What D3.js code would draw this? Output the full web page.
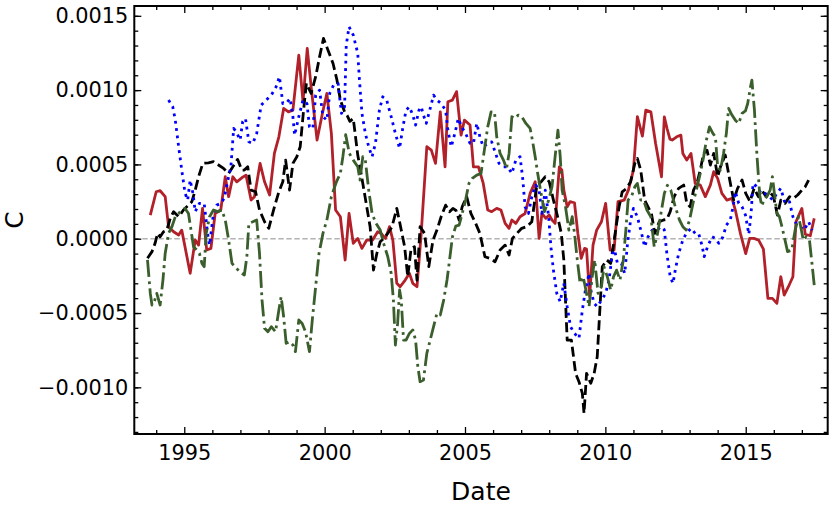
<!DOCTYPE html>
<html>
<head>
<meta charset="utf-8">
<script src="https://cdn.jsdelivr.net/npm/d3@7"></script>
<style>
  body { margin: 0; background: #fff; }
  svg { display: block; font-family: "DejaVu Sans", sans-serif; }
</style>
</head>
<body>
<script>
// values are [decimal year, C in units of 1e-4]
const redSeries = [
  [1993.79,1.59],[1994.0,3.16],[1994.14,3.23],[1994.32,2.83],[1994.44,0.81],[1994.62,0.47],[1994.8,0.25],[1994.91,0.58],
  [1995.21,-2.33],[1995.39,-0.09],[1995.51,-0.43],[1995.65,2.04],[1995.8,-0.76],[1995.95,-0.65],[1996.1,1.7],[1996.3,1.93],
  [1996.46,4.17],[1996.58,2.83],[1996.73,4.17],[1996.87,3.83],[1997.05,4.1],[1997.2,4.28],[1997.38,2.6],[1997.5,2.83],
  [1997.7,5.07],[1997.86,3.83],[1998.04,2.94],[1998.21,5.74],[1998.37,6.86],[1998.54,8.77],[1998.71,8.54],[1998.87,8.65],
  [1999.08,12.35],[1999.23,9.22],[1999.38,12.8],[1999.52,10.22],[1999.73,6.64],[1999.92,8.43],[2000.08,9.78],[2000.24,7.09],
  [2000.39,1.93],[2000.56,1.48],[2000.73,-1.43],[2000.87,1.7],[2001.02,-0.31],[2001.18,0.02],[2001.33,-0.65],[2001.5,-0.09],
  [2001.71,-0.09],[2001.89,0.47],[2002.01,0.36],[2002.17,0.02],[2002.31,0.81],[2002.43,-0.09],[2002.57,-3.0],[2002.69,-3.23],
  [2002.87,-2.78],[2003.02,-2.33],[2003.14,-3.0],[2003.29,-3.23],[2003.44,0.36],[2003.64,6.19],[2003.8,5.96],[2003.95,5.07],
  [2004.12,8.54],[2004.29,4.84],[2004.39,9.22],[2004.55,9.33],[2004.7,9.9],[2004.86,6.97],[2004.98,7.98],[2005.18,7.65],
  [2005.3,4.84],[2005.48,4.84],[2005.65,3.72],[2005.81,1.93],[2005.95,1.82],[2006.13,2.04],[2006.28,1.93],[2006.43,1.03],
  [2006.57,0.7],[2006.67,1.26],[2006.81,1.03],[2006.96,1.48],[2007.14,1.7],[2007.32,3.05],[2007.5,3.83],[2007.64,0.02],
  [2007.74,1.7],[2007.88,1.37],[2008.0,1.59],[2008.1,1.26],[2008.21,1.03],[2008.36,4.84],[2008.45,4.62],[2008.52,3.27],
  [2008.64,2.15],[2008.74,2.49],[2008.9,2.42],[2009.02,0.36],[2009.14,-1.32],[2009.26,-0.65],[2009.33,-0.7],[2009.44,-3.9],
  [2009.56,-0.43],[2009.69,0.58],[2009.86,1.14],[2010.01,2.38],[2010.17,-0.76],[2010.31,-0.76],[2010.45,2.49],[2010.67,2.6],
  [2010.82,3.27],[2011.0,4.62],[2011.14,8.21],[2011.32,6.91],[2011.44,8.65],[2011.62,8.54],[2011.79,6.41],[2012.0,4.17],
  [2012.1,8.2],[2012.2,7.4],[2012.3,6.7],[2012.38,6.64],[2012.54,6.86],[2012.69,6.97],[2012.76,5.74],[2012.9,5.29],
  [2013.05,5.74],[2013.2,3.72],[2013.38,3.61],[2013.56,2.83],[2013.74,3.61],[2013.86,4.51],[2014.0,4.06],[2014.15,3.05],
  [2014.33,2.6],[2014.51,2.71],[2014.63,1.93],[2014.81,0.36],[2015.0,-1.0],[2015.14,0.02],[2015.29,0.02],[2015.46,-0.09],
  [2015.63,-0.7],[2015.79,-4.01],[2015.95,-4.01],[2016.11,-4.35],[2016.25,-2.56],[2016.37,-3.79],[2016.52,-3.23],[2016.68,-2.56],
  [2016.79,1.14],[2017.0,2.04],[2017.12,0.3],[2017.3,0.2],[2017.44,1.37]
];

const blackSeries = [
  [1993.69,-1.32],[1993.85,-0.87],[1993.96,-0.31],[1994.05,0.36],[1994.14,0.13],[1994.26,0.47],[1994.38,0.58],[1994.5,1.37],
  [1994.62,1.82],[1994.8,1.48],[1994.97,1.93],[1995.09,2.15],[1995.27,2.49],[1995.39,3.27],[1995.51,4.17],[1995.66,5.07],
  [1995.86,5.11],[1996.04,5.18],[1996.22,4.96],[1996.4,4.73],[1996.58,4.39],[1996.73,4.84],[1996.9,5.34],[1997.05,4.62],
  [1997.14,4.62],[1997.26,4.84],[1997.38,3.27],[1997.54,3.16],[1997.68,1.93],[1997.86,1.14],[1998.01,0.7],[1998.18,1.93],
  [1998.37,3.16],[1998.51,3.83],[1998.61,5.29],[1998.75,3.27],[1998.87,5.07],[1999.01,5.52],[1999.13,6.19],[1999.25,8.65],
  [1999.35,10.45],[1999.52,9.78],[1999.68,10.9],[1999.82,12.24],[1999.96,13.48],[2000.12,12.69],[2000.3,11.79],[2000.44,10.67],
  [2000.56,9.33],[2000.71,8.54],[2000.8,8.3],[2000.9,7.9],[2001.02,8.09],[2001.18,5.63],[2001.36,3.72],[2001.5,2.15],
  [2001.62,0.81],[2001.74,-2.11],[2001.86,-0.99],[2001.98,-0.2],[2002.1,0.02],[2002.25,0.36],[2002.4,0.81],[2002.57,2.04],
  [2002.73,0.58],[2002.85,-0.54],[2002.96,-2.56],[2003.08,-0.65],[2003.2,-0.54],[2003.29,-2.78],[2003.4,0.81],[2003.56,0.36],
  [2003.71,-1.88],[2003.86,-0.09],[2004.0,0.58],[2004.15,1.48],[2004.31,2.26],[2004.45,1.82],[2004.57,2.04],[2004.68,1.9],
  [2004.79,1.26],[2004.9,2.15],[2005.06,2.83],[2005.21,1.7],[2005.38,1.03],[2005.53,0.36],[2005.71,-1.21],[2005.89,-1.32],
  [2006.07,-1.55],[2006.25,-0.76],[2006.43,-0.43],[2006.57,-1.1],[2006.69,0.02],[2006.85,0.36],[2007.02,0.7],[2007.2,0.81],
  [2007.38,1.14],[2007.56,3.61],[2007.71,3.83],[2007.86,4.17],[2008.0,3.83],[2008.15,2.6],[2008.3,1.48],[2008.43,0.36],
  [2008.52,-1.43],[2008.64,-6.82],[2008.79,-6.82],[2008.94,-9.06],[2009.06,-9.62],[2009.18,-10.4],[2009.24,-11.75],[2009.33,-9.06],
  [2009.48,-9.73],[2009.6,-9.06],[2009.71,-7.94],[2009.81,-4.57],[2009.89,-1.88],[2010.05,-1.43],[2010.19,-1.66],[2010.33,0.13],
  [2010.49,2.15],[2010.6,3.16],[2010.76,3.39],[2010.9,3.83],[2011.05,5.07],[2011.14,5.4],[2011.26,4.62],[2011.4,2.6],
  [2011.52,2.15],[2011.64,1.7],[2011.76,0.36],[2011.92,1.14],[2012.07,1.26],[2012.19,1.3],[2012.31,1.82],[2012.45,2.83],
  [2012.61,3.39],[2012.79,3.61],[2012.9,2.38],[2013.02,2.15],[2013.14,3.27],[2013.26,3.72],[2013.38,4.62],[2013.5,5.74],
  [2013.62,5.96],[2013.74,4.96],[2013.86,5.74],[2014.0,4.17],[2014.1,4.84],[2014.27,5.63],[2014.43,3.95],[2014.57,2.6],
  [2014.71,3.39],[2014.87,3.95],[2015.0,3.05],[2015.15,2.5],[2015.3,3.39],[2015.45,2.83],[2015.57,3.27],[2015.73,2.83],
  [2015.85,3.16],[2015.99,2.83],[2016.13,1.59],[2016.25,2.6],[2016.4,2.38],[2016.56,2.83],[2016.7,2.71],[2016.85,2.94],
  [2017.0,3.27],[2017.12,3.5],[2017.24,3.95]
];

const blueSeries = [
  [1994.44,9.33],[1994.59,8.88],[1994.68,7.98],[1994.8,6.19],[1994.91,4.62],[1995.03,3.05],[1995.12,2.6],[1995.21,3.95],
  [1995.31,3.05],[1995.39,1.82],[1995.54,2.38],[1995.71,2.38],[1995.83,0.36],[1995.9,-0.43],[1996.04,1.7],[1996.16,2.26],
  [1996.3,2.38],[1996.42,2.71],[1996.54,3.83],[1996.66,4.84],[1996.76,7.42],[1996.85,7.2],[1996.99,6.64],[1997.08,7.87],
  [1997.18,8.09],[1997.3,6.52],[1997.44,6.41],[1997.58,7.09],[1997.74,8.99],[1997.92,9.33],[1998.1,9.66],[1998.27,10.22],
  [1998.39,10.9],[1998.51,9.1],[1998.63,9.1],[1998.77,9.44],[1998.87,8.21],[1998.93,6.97],[1999.08,8.21],[1999.23,9.33],
  [1999.37,9.1],[1999.46,7.53],[1999.58,7.42],[1999.68,9.66],[1999.82,10.0],[1999.94,8.21],[2000.08,7.98],[2000.18,9.78],
  [2000.32,10.34],[2000.48,10.45],[2000.6,8.43],[2000.71,8.88],[2000.77,13.03],[2000.87,14.26],[2001.02,13.7],[2001.18,12.47],
  [2001.24,10.67],[2001.33,8.43],[2001.45,7.09],[2001.57,6.19],[2001.69,5.52],[2001.81,6.41],[2001.95,8.65],[2002.07,9.55],
  [2002.21,9.33],[2002.37,8.21],[2002.52,7.09],[2002.67,6.08],[2002.79,7.53],[2002.9,8.65],[2003.02,8.88],[2003.14,8.32],
  [2003.24,7.65],[2003.36,8.65],[2003.44,8.88],[2003.52,8.32],[2003.62,7.76],[2003.76,8.77],[2003.88,9.66],[2004.0,9.33],
  [2004.15,9.1],[2004.31,8.65],[2004.39,7.31],[2004.51,6.19],[2004.64,7.09],[2004.76,8.09],[2004.88,7.53],[2005.02,7.09],
  [2005.18,6.41],[2005.3,6.41],[2005.42,7.76],[2005.53,6.86],[2005.65,6.19],[2005.81,6.41],[2005.95,6.52],[2006.07,5.85],
  [2006.21,5.07],[2006.37,4.84],[2006.52,4.84],[2006.67,4.39],[2006.81,5.29],[2006.96,5.52],[2007.05,4.17],[2007.14,2.15],
  [2007.26,1.7],[2007.38,2.83],[2007.52,3.61],[2007.64,3.27],[2007.74,1.7],[2007.86,3.27],[2007.98,1.48],[2008.07,-0.76],
  [2008.15,-2.11],[2008.27,-3.68],[2008.39,-4.24],[2008.52,-3.0],[2008.64,-4.57],[2008.76,-5.92],[2008.9,-6.37],[2009.06,-6.7],
  [2009.18,-4.8],[2009.29,-3.45],[2009.42,-2.33],[2009.48,-3.45],[2009.6,-4.35],[2009.71,-4.57],[2009.86,-4.13],[2010.01,-3.68],
  [2010.13,-2.78],[2010.25,-0.99],[2010.33,-0.76],[2010.43,-1.66],[2010.57,-1.66],[2010.69,-2.33],[2010.79,-0.31],[2010.9,1.26],
  [2011.0,2.04],[2011.14,1.48],[2011.29,0.36],[2011.4,-0.54],[2011.52,0.13],[2011.67,0.58],[2011.83,0.58],[2011.98,0.81],
  [2012.1,0.6],[2012.19,-0.99],[2012.31,-2.56],[2012.41,-3.0],[2012.49,-2.11],[2012.61,-0.99],[2012.76,-0.09],[2012.88,0.36],
  [2013.05,0.7],[2013.2,0.36],[2013.32,0.36],[2013.44,-0.43],[2013.52,-1.21],[2013.64,-0.54],[2013.8,0.13],[2013.92,0.02],
  [2014.04,-0.31],[2014.19,0.13],[2014.31,0.92],[2014.45,1.26],[2014.55,2.15],[2014.63,3.16],[2014.75,2.38],[2014.87,2.15],
  [2014.99,1.6],[2015.11,0.3],[2015.19,1.7],[2015.26,3.72],[2015.4,3.5],[2015.55,3.05],[2015.65,3.1],[2015.81,2.9],
  [2015.96,2.6],[2016.11,3.05],[2016.25,3.39],[2016.4,2.38],[2016.56,2.49],[2016.68,1.48],[2016.79,1.03],[2016.94,0.81],
  [2017.08,0.58],[2017.24,1.14],[2017.36,0.58]
];

const greenSeries = [
  [1993.69,-1.43],[1993.79,-3.68],[1993.85,-4.46],[1993.93,-4.24],[1994.02,-3.68],[1994.14,-4.46],[1994.24,-2.78],[1994.32,-0.99],
  [1994.44,0.36],[1994.56,0.81],[1994.68,1.48],[1994.8,1.7],[1994.91,1.93],[1995.03,2.04],[1995.15,1.7],[1995.24,0.58],
  [1995.33,-0.54],[1995.45,-0.76],[1995.54,-0.99],[1995.63,-1.66],[1995.71,-1.88],[1995.78,0.36],[1995.9,1.48],[1996.04,1.93],
  [1996.19,1.82],[1996.34,1.93],[1996.46,1.26],[1996.58,-0.09],[1996.7,-1.66],[1996.81,-1.88],[1996.97,-2.22],[1997.14,-2.44],
  [1997.23,-1.21],[1997.3,1.03],[1997.44,1.14],[1997.58,1.26],[1997.68,-0.99],[1997.77,-4.13],[1997.86,-6.03],[1997.98,-6.26],
  [1998.1,-5.92],[1998.25,-6.26],[1998.37,-4.8],[1998.45,-3.9],[1998.54,-5.25],[1998.63,-7.04],[1998.75,-6.93],[1998.87,-7.15],
  [1998.96,-7.6],[1999.08,-5.47],[1999.2,-5.7],[1999.32,-6.26],[1999.46,-7.6],[1999.56,-5.47],[1999.68,-3.23],[1999.8,-0.99],
  [1999.94,0.36],[2000.08,1.26],[2000.24,2.83],[2000.42,3.83],[2000.56,4.39],[2000.65,5.52],[2000.75,7.0],[2000.88,5.74],
  [2001.02,5.29],[2001.18,4.84],[2001.26,3.95],[2001.36,5.52],[2001.45,5.29],[2001.57,3.27],[2001.69,1.7],[2001.83,1.03],
  [2001.98,0.58],[2002.1,-0.31],[2002.25,-1.21],[2002.37,-2.33],[2002.45,-4.13],[2002.52,-7.15],[2002.6,-5.7],[2002.67,-3.45],
  [2002.73,-4.13],[2002.81,-6.82],[2002.9,-6.82],[2003.02,-6.37],[2003.14,-6.14],[2003.24,-6.82],[2003.32,-8.61],[2003.4,-9.62],
  [2003.52,-9.51],[2003.64,-7.71],[2003.76,-6.82],[2003.88,-5.92],[2004.0,-5.02],[2004.12,-5.13],[2004.24,-4.13],[2004.36,-2.78],
  [2004.45,-1.43],[2004.55,0.1],[2004.67,0.85],[2004.79,0.92],[2004.9,1.7],[2005.02,2.6],[2005.14,3.72],[2005.26,4.06],
  [2005.42,4.28],[2005.57,4.39],[2005.69,5.96],[2005.81,7.53],[2005.93,8.54],[2006.05,8.54],[2006.13,6.86],[2006.25,5.74],
  [2006.37,5.29],[2006.48,4.73],[2006.57,5.74],[2006.67,8.21],[2006.78,8.09],[2006.9,8.32],[2007.02,8.21],[2007.17,7.76],
  [2007.32,7.42],[2007.4,6.64],[2007.5,5.52],[2007.59,4.39],[2007.71,3.05],[2007.83,1.82],[2007.98,2.6],[2008.1,3.5],
  [2008.21,5.52],[2008.31,7.31],[2008.39,5.6],[2008.46,3.27],[2008.58,2.15],[2008.7,0.58],[2008.82,1.48],[2008.9,0.36],
  [2009.0,-1.43],[2009.1,-3.0],[2009.21,-2.56],[2009.33,-3.68],[2009.42,-4.57],[2009.53,-2.56],[2009.62,-1.43],[2009.74,-3.68],
  [2009.86,-3.23],[2009.95,-1.88],[2010.07,-2.56],[2010.19,-3.45],[2010.29,-2.56],[2010.4,-2.11],[2010.52,-2.78],[2010.64,-1.43],
  [2010.72,0.36],[2010.81,2.6],[2010.93,2.83],[2011.05,3.5],[2011.14,3.72],[2011.26,2.6],[2011.36,2.6],[2011.48,1.93],
  [2011.62,1.48],[2011.74,-0.54],[2011.86,0.36],[2011.98,1.7],[2012.1,3.05],[2012.21,3.6],[2012.33,3.27],[2012.49,2.15],
  [2012.64,1.26],[2012.76,0.81],[2012.88,0.58],[2013.0,1.26],[2013.12,2.38],[2013.24,3.27],[2013.38,4.39],[2013.5,5.52],
  [2013.6,6.64],[2013.71,7.53],[2013.83,7.09],[2013.92,6.86],[2014.0,4.84],[2014.1,4.62],[2014.21,5.74],[2014.31,7.09],
  [2014.39,8.77],[2014.51,8.32],[2014.63,7.98],[2014.75,7.76],[2014.87,8.43],[2014.99,8.6],[2015.07,9.1],[2015.17,10.22],
  [2015.22,10.67],[2015.31,8.65],[2015.4,5.6],[2015.5,2.9],[2015.57,2.2],[2015.65,2.6],[2015.75,2.83],[2015.87,3.27],
  [2015.95,4.17],[2016.05,2.6],[2016.11,1.7],[2016.2,1.48],[2016.29,0.81],[2016.4,-0.09],[2016.49,-0.87],[2016.64,-0.76],
  [2016.76,0.58],[2016.88,1.48],[2016.96,0.81],[2017.05,-0.09],[2017.15,0.13],[2017.27,-0.09],[2017.36,-1.66],[2017.44,-3.12]
];

const xMajorTicks = [1995, 2000, 2005, 2010, 2015];
const yMajorTicks = [-0.0010, -0.0005, 0.0000, 0.0005, 0.0010, 0.0015];

const width = 830, height = 508;
const margin = {top: 6, right: 2.3, bottom: 74, left: 134.3};
const innerW = width - margin.left - margin.right;
const innerH = height - margin.top - margin.bottom;

const x = d3.scaleLinear().domain([1993.22, 2017.92]).range([0, innerW]);
const y = d3.scaleLinear().domain([-0.001314, 0.001566]).range([innerH, 0]);

const xMinor = d3.range(1994, 2018);
const yMinor = d3.range(-13, 16).map(d => d * 0.0001);

const svg = d3.select("body").append("svg")
  .attr("width", width)
  .attr("height", height);

const g = svg.append("g").attr("transform", `translate(${margin.left},${margin.top})`);

g.append("clipPath").attr("id", "clip")
  .append("rect").attr("width", innerW).attr("height", innerH);

// zero line
g.append("line")
  .attr("x1", 0).attr("x2", innerW)
  .attr("y1", y(0)).attr("y2", y(0))
  .attr("stroke", "#b4b4b4")
  .attr("stroke-width", 1.5)
  .attr("stroke-dasharray", "5.5,2.5");

const line = d3.line()
  .x(d => x(d[0]))
  .y(d => y(d[1] * 1e-4));

const series = [
  {data: redSeries, color: "#b2202a", dash: null},
  {data: blackSeries, color: "#000000", dash: "10,4.4"},
  {data: blueSeries, color: "#0000ff", dash: "2.8,4.6"},
  {data: greenSeries, color: "#3a5e2c", dash: "17,4.4,2.8,4.4"}
];

const plot = g.append("g").attr("clip-path", "url(#clip)");
series.forEach(s => {
  plot.append("path")
    .datum(s.data)
    .attr("fill", "none")
    .attr("stroke", s.color)
    .attr("stroke-width", 2.8)
    .attr("stroke-linejoin", "round")
    .attr("stroke-dasharray", s.dash)
    .attr("d", line);
});

// axes with inward ticks on all four sides
function styleAxis(sel) {
  sel.select(".domain").remove();
  sel.selectAll(".tick line").attr("stroke", "#000").attr("stroke-width", 1.3);
  sel.selectAll("text")
    .attr("fill", "#000")
    .style("font-family", "DejaVu Sans, sans-serif")
    .style("font-size", "20.83px");
}

g.append("g")
  .attr("transform", `translate(0,${innerH})`)
  .call(d3.axisBottom(x).tickValues(xMajorTicks).tickFormat(d3.format("d")).tickSize(-7).tickPadding(11))
  .call(styleAxis);
g.append("g")
  .attr("transform", `translate(0,${innerH})`)
  .call(d3.axisBottom(x).tickValues(xMinor.filter(d => d % 5)).tickFormat("").tickSize(-4))
  .call(styleAxis);
g.append("g")
  .call(d3.axisTop(x).tickValues(xMajorTicks).tickFormat("").tickSize(-7))
  .call(styleAxis);
g.append("g")
  .call(d3.axisTop(x).tickValues(xMinor.filter(d => d % 5)).tickFormat("").tickSize(-4))
  .call(styleAxis);

g.append("g")
  .call(d3.axisLeft(y).tickValues(yMajorTicks).tickFormat(d3.format(".4f")).tickSize(-7).tickPadding(6))
  .call(styleAxis);
g.append("g")
  .call(d3.axisLeft(y).tickValues(yMinor).tickFormat("").tickSize(-4))
  .call(styleAxis);
g.append("g")
  .attr("transform", `translate(${innerW},0)`)
  .call(d3.axisRight(y).tickValues(yMajorTicks).tickFormat("").tickSize(-7))
  .call(styleAxis);
g.append("g")
  .attr("transform", `translate(${innerW},0)`)
  .call(d3.axisRight(y).tickValues(yMinor).tickFormat("").tickSize(-4))
  .call(styleAxis);

// frame
g.append("rect")
  .attr("width", innerW).attr("height", innerH)
  .attr("fill", "none")
  .attr("stroke", "#000")
  .attr("stroke-width", 2);

// axis labels
svg.append("text")
  .attr("x", margin.left + innerW / 2)
  .attr("y", 500)
  .attr("text-anchor", "middle")
  .style("font-size", "25px")
  .text("Date");

svg.append("text")
  .attr("transform", `translate(23,${margin.top + innerH / 2}) rotate(-90)`)
  .attr("text-anchor", "middle")
  .style("font-size", "25px")
  .text("C");
</script>
</body>
</html>
